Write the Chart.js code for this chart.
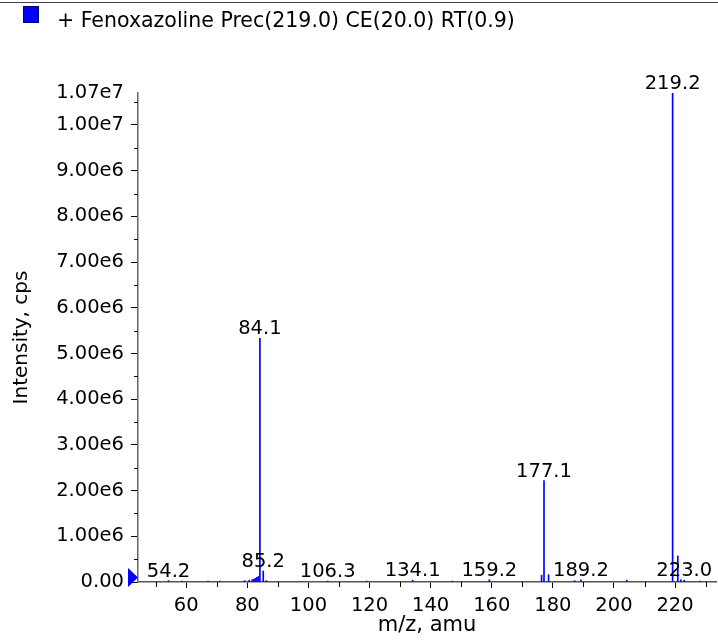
<!DOCTYPE html>
<html>
<head>
<meta charset="utf-8">
<script src="https://cdn.jsdelivr.net/npm/chart.js@4.4.1/dist/chart.umd.min.js"></script>
<style>
  html, body { margin: 0; padding: 0; background: #fff; }
  #wrap { width: 718px; height: 640px; }
</style>
</head>
<body>
<div id="wrap"><canvas id="spectrum" width="718" height="640"></canvas></div>
<script>
// spectrum (m/z, intensity in cps)
const mzValues = [54.2, 58.6, 67.1, 71.0, 79.1, 80.6, 81.6, 82.1, 82.6, 83.1, 83.6, 84.1, 85.2, 86.2,
    106.3, 119.0, 134.1, 147.1, 159.2, 176.3, 177.1, 178.6, 187.1, 189.2, 204.2,
    219.2, 220.9, 221.9, 223.0, 228.1];
const intensities = [0.03e6, 0.02e6, 0.02e6, 0.02e6, 0.03e6, 0.04e6, 0.05e6, 0.06e6, 0.08e6, 0.10e6, 0.12e6, 5.33e6, 0.24e6, 0.03e6,
    0.02e6, 0.02e6, 0.04e6, 0.02e6, 0.05e6, 0.15e6, 2.22e6, 0.16e6, 0.03e6, 0.05e6, 0.04e6,
    1.07e7, 0.57e6, 0.05e6, 0.04e6, 0.02e6];
const labeledPeaks = [54.2, 84.1, 85.2, 106.3, 134.1, 159.2, 177.1, 189.2, 219.2, 223.0];

const xTicks = [60, 80, 100, 120, 140, 160, 180, 200, 220];
const xMinorTicks = [50, 70, 90, 110, 130, 150, 170, 190, 210, 230];
const yTicks = [0, 1e6, 2e6, 3e6, 4e6, 5e6, 6e6, 7e6, 8e6, 9e6, 1e7, 1.07e7];
const yMinorTicks = [0.5e6, 1.5e6, 2.5e6, 3.5e6, 4.5e6, 5.5e6, 6.5e6, 7.5e6, 8.5e6, 9.5e6, 10.5e6];

const titleText = '+ Fenoxazoline Prec(219.0) CE(20.0) RT(0.9)';
const FONT = '"DejaVu Sans", sans-serif';

function formatIntensity(v) {
    if (v === 0) return '0.00';
    return v.toExponential(2).replace('+', '');
}

const decorations = {
    id: 'decorations',
    afterDraw(chart) {
        const ctx = chart.ctx;
        const xs = chart.scales.x, ys = chart.scales.y;
        ctx.save();

        // top rule
        ctx.fillStyle = '#444';
        ctx.fillRect(0, 2, chart.width, 1);

        // legend swatch + title
        ctx.fillStyle = '#0000ff';
        ctx.fillRect(23, 6, 16, 17);
        ctx.strokeStyle = '#000066';
        ctx.lineWidth = 1;
        ctx.strokeRect(23.5, 6.5, 15, 16);
        ctx.fillStyle = '#000';
        ctx.font = '20.5px ' + FONT;
        ctx.textAlign = 'left';
        ctx.textBaseline = 'alphabetic';
        ctx.fillText(titleText, 57, 27);

        // minor ticks
        ctx.strokeStyle = '#000';
        ctx.lineWidth = 1;
        ctx.beginPath();
        yMinorTicks.forEach(v => {
            const y = Math.round(ys.getPixelForValue(v)) + 0.5;
            ctx.moveTo(xs.left - 4, y);
            ctx.lineTo(xs.left, y);
        });
        xMinorTicks.forEach(v => {
            const x = Math.round(xs.getPixelForValue(v)) + 0.5;
            ctx.moveTo(x, ys.bottom);
            ctx.lineTo(x, ys.bottom + 5);
        });
        ctx.stroke();

        // zero marker
        const y0 = ys.getPixelForValue(0);
        ctx.fillStyle = '#0000ff';
        ctx.beginPath();
        ctx.moveTo(xs.left - 10, y0 - 14);
        ctx.lineTo(xs.left, y0 - 4.5);
        ctx.lineTo(xs.left - 10, y0 + 5);
        ctx.closePath();
        ctx.fill();

        // peak labels
        ctx.fillStyle = '#000';
        ctx.font = '19.5px ' + FONT;
        ctx.textAlign = 'center';
        labeledPeaks.forEach(mz => {
            const i = mzValues.indexOf(mz);
            const x = xs.getPixelForValue(mz);
            const y = ys.getPixelForValue(intensities[i]) - 4;
            ctx.fillText(mz.toFixed(1), x, y);
        });
        ctx.restore();
    }
};

new Chart(document.getElementById('spectrum'), {
    type: 'bar',
    data: {
        datasets: [{
            data: mzValues.map((m, i) => ({ x: m, y: intensities[i] })),
            backgroundColor: '#0000ff',
            borderWidth: 0,
            barThickness: 1,
            grouped: false
        }]
    },
    options: {
        responsive: false,
        animation: false,
        devicePixelRatio: 1,
        layout: { padding: { top: 93, left: 0, right: 2, bottom: 0 } },
        plugins: {
            legend: { display: false },
            tooltip: { enabled: false }
        },
        scales: {
            x: {
                type: 'linear',
                offset: false,
                min: 44.2,
                max: 233.4,
                afterBuildTicks: scale => { scale.ticks = xTicks.map(v => ({ value: v })); },
                afterFit: scale => { scale.height = 58; },
                ticks: {
                    font: { family: FONT, size: 19.5 },
                    color: '#000',
                    padding: 6,
                    maxRotation: 0,
                    autoSkip: false
                },
                grid: {
                    offset: false,
                    drawOnChartArea: false,
                    tickLength: 6,
                    tickColor: '#000'
                },
                border: { color: '#555', width: 1.5 },
                title: {
                    display: true,
                    text: 'm/z, amu',
                    font: { family: FONT, size: 21 },
                    color: '#000',
                    padding: { top: 3, bottom: 2 }
                }
            },
            y: {
                min: 0,
                max: 1.07e7,
                afterBuildTicks: scale => { scale.ticks = yTicks.map(v => ({ value: v })); },
                afterFit: scale => { scale.width = 138; },
                ticks: {
                    font: { family: FONT, size: 19.5 },
                    color: '#000',
                    padding: 7,
                    autoSkip: false,
                    callback: v => formatIntensity(v)
                },
                grid: {
                    drawOnChartArea: false,
                    tickLength: 7,
                    tickColor: c => (c.tick && c.tick.value === 1.07e7 ? 'rgba(0,0,0,0)' : '#000')
                },
                border: { color: '#666', width: 1.5 },
                title: {
                    display: true,
                    text: 'Intensity, cps',
                    font: { family: FONT, size: 20 },
                    color: '#000',
                    padding: { top: 10, bottom: 0 }
                }
            }
        }
    },
    plugins: [decorations]
});
</script>
</body>
</html>
